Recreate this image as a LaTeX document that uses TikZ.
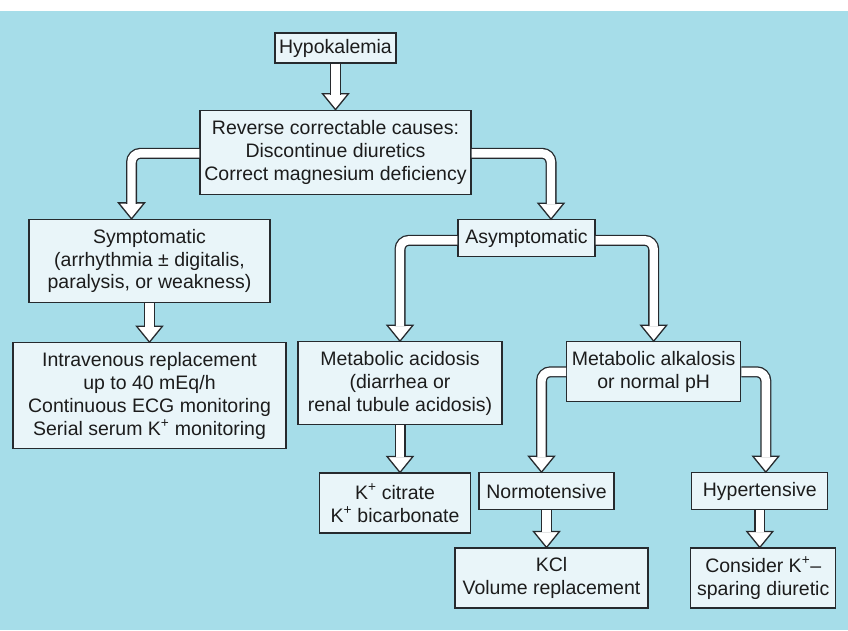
\documentclass[tikz,border=0pt]{standalone}
\usepackage{fontspec}
\setmainfont{Liberation Sans}
\usepackage{tikz}
\usetikzlibrary{positioning, calc}
\definecolor{bgblue}{RGB}{166,221,233}
\definecolor{boxfill}{RGB}{233,245,249}
\definecolor{edge}{RGB}{38,42,46}
\definecolor{txt}{RGB}{28,28,28}
\tikzset{
  box/.style={rectangle, draw=edge, fill=boxfill, line width=1.3pt, align=center, inner sep=0pt, text=txt, font=\fontsize{19.5}{22.8}\selectfont},
  shaft/.style={draw=edge, line width=1.3pt, double=white, double distance=8.4pt, rounded corners=9pt, shorten >=15pt},
  head/.style={draw=edge, fill=white, line width=1.3pt, line join=miter},
  headtip/.pic={\draw[head] (-13,-16) -- (0,0) -- (13,-16) -- cycle;},
}

\begin{document}
\begin{tikzpicture}[x=1pt, y=-1pt]
\useasboundingbox (0,0) rectangle (848,630);
\fill[white] (0,0) rectangle (848,11);
\fill[bgblue] (0,11) rectangle (848,630);

\node[box, minimum width=121pt, minimum height=30pt] (hypo) at (335.5,48) {Hypokalemia};
\node[box, minimum width=271pt, minimum height=84pt, below=46pt of hypo] (rev) {Reverse correctable causes:\\Discontinue diuretics\\Correct magnesium deficiency};
\node[box, minimum width=241pt, minimum height=83pt] (sym) at (149.5,261) {Symptomatic\\(arrhythmia ± digitalis,\\paralysis, or weakness)};
\node[box, minimum width=273pt, minimum height=106pt, below=39pt of sym] (iv) {Intravenous replacement\\up to 40 mEq/h\\Continuous ECG monitoring\\Serial serum K\textsuperscript{+} monitoring};
\node[box, minimum width=137pt, minimum height=37pt] (asym) at (526.5,238.3) {Asymptomatic};
\node[box, minimum width=204pt, minimum height=83pt] (acid) at (400,383.3) {Metabolic acidosis\\(diarrhea or\\renal tubule acidosis)};
\node[box, minimum width=151pt, minimum height=60pt, below=47pt of acid, xshift=-5pt] (cit) {K\textsuperscript{+} citrate\\K\textsuperscript{+} bicarbonate};
\node[box, minimum width=174pt, minimum height=60pt] (alk) at (653.7,371.8) {Metabolic alkalosis\\or normal pH};
\node[box, minimum width=135pt, minimum height=37pt] (norm) at (546.5,491.3) {Normotensive};
\node[box, minimum width=136pt, minimum height=37pt] (hyper) at (759.8,491.3) {Hypertensive};
\node[box, minimum width=193pt, minimum height=60pt, below=37pt of norm, xshift=5pt] (kcl) {KCl\\Volume replacement};
\node[box, minimum width=145pt, minimum height=60pt, below=37pt of hyper, xshift=3.4pt] (cons) {Consider K\textsuperscript{+}--\\sparing diuretic};

% block arrows
\pic at (rev.north) {headtip};
\draw[shaft] (hypo.south) -- (rev.north);
\pic at ($(sym.north)+(-18,0)$) {headtip};
\draw[shaft] ($(rev.west)+(0,1)$) -| ($(sym.north)+(-18,0)$);
\pic at ($(asym.north)+(24.5,0)$) {headtip};
\draw[shaft] ($(rev.east)+(0,1)$) -| ($(asym.north)+(24.5,0)$);
\pic at (iv.north) {headtip};
\draw[shaft] (sym.south) -- (iv.north);
\pic at (acid.north) {headtip};
\draw[shaft] ($(asym.west)+(0,2)$) -| (acid.north);
\pic at (alk.north) {headtip};
\draw[shaft] ($(asym.east)+(0,2)$) -| (alk.north);
\pic at ($(cit.north)+(5,0)$) {headtip};
\draw[shaft] (acid.south) -- ($(cit.north)+(5,0)$);
\pic at ($(norm.north)+(-5,0)$) {headtip};
\draw[shaft] (alk.west) -| ($(norm.north)+(-5,0)$);
\pic at ($(hyper.north)+(6,0)$) {headtip};
\draw[shaft] (alk.east) -| ($(hyper.north)+(6,0)$);
\pic at ($(kcl.north)+(-5,0)$) {headtip};
\draw[shaft] (norm.south) -- ($(kcl.north)+(-5,0)$);
\pic at ($(cons.north)+(-3.4,0)$) {headtip};
\draw[shaft] (hyper.south) -- ($(cons.north)+(-3.4,0)$);
\end{tikzpicture}
\end{document}
